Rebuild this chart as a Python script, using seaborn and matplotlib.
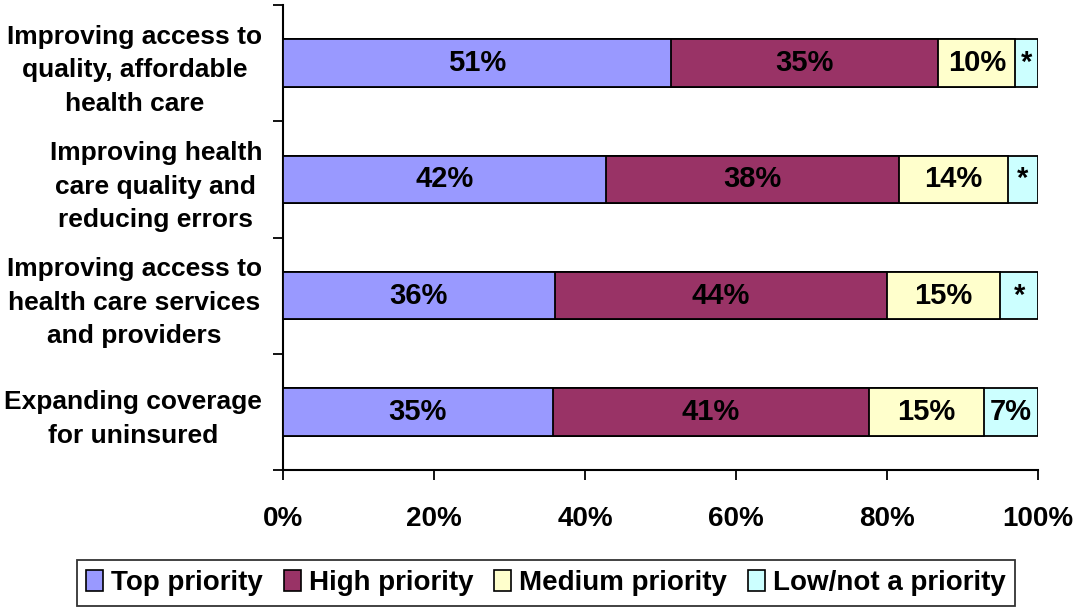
import matplotlib
matplotlib.use("Agg")
import matplotlib.pyplot as plt
from matplotlib.patches import Patch
from matplotlib.ticker import FixedLocator
import seaborn as sns
import numpy as np
import pandas as pd

categories = [
    "Improving access to\nquality, affordable\nhealth care",
    "Improving health\ncare quality and\nreducing errors",
    "Improving access to\nhealth care services\nand providers",
    "Expanding coverage\nfor uninsured",
]
series_names = ["Top priority", "High priority", "Medium priority", "Low/not a priority"]
top_vals = [51.4, 42.8, 36.0, 35.7]
high_vals = [35.4, 38.8, 44.0, 41.9]
medium_vals = [10.2, 14.4, 15.0, 15.3]
low_vals = [3.0, 4.0, 5.0, 7.1]
top_labels = ["51%", "42%", "36%", "35%"]
high_labels = ["35%", "38%", "44%", "41%"]
medium_labels = ["10%", "14%", "15%", "15%"]
low_labels = ["*", "*", "*", "7%"]
colors = ["#9999FF", "#993366", "#FFFFCC", "#CCFFFF"]
xticks = [0, 20, 40, 60, 80, 100]
xtick_labels = ["0%", "20%", "40%", "60%", "80%", "100%"]

sns.set_theme(style="white")
plt.rcParams["font.family"] = ["Liberation Sans", "DejaVu Sans"]
plt.rcParams["font.weight"] = "bold"
for k in ["text.color", "xtick.color", "ytick.color", "axes.labelcolor"]:
    plt.rcParams[k] = "black"

fig = plt.figure(figsize=(10.75, 6.1), dpi=100)
ax = fig.add_axes([283 / 1075, 1 - 470 / 610, (1038 - 283) / 1075, (470 - 5) / 610])

series_vals = [top_vals, high_vals, medium_vals, low_vals]
series_labels = [top_labels, high_labels, medium_labels, low_labels]
cum = np.cumsum(np.array(series_vals), axis=0)

df = pd.DataFrame({"category": categories})
# Draw cumulative bars from the largest to the smallest so they stack visually
for i in range(len(series_names) - 1, -1, -1):
    df["val"] = cum[i]
    sns.barplot(data=df, x="val", y="category", orient="h", color=colors[i],
                edgecolor="black", linewidth=1.3, width=0.41, ax=ax,
                saturation=1, zorder=2 + (3 - i))

for i in range(len(series_names)):
    starts = cum[i] - np.array(series_vals[i])
    for j, cat in enumerate(categories):
        ax.text(starts[j] + series_vals[i][j] / 2, j, series_labels[i][j],
                ha="center", va="center", fontsize=21, fontweight="bold",
                color="black", zorder=10)

ax.set_xlim(0, 100)
ax.set_ylim(3.5, -0.5)
ax.set_xlabel("")
ax.set_ylabel("")
ax.set_xticks(xticks)
ax.set_xticklabels(xtick_labels, fontsize=20, fontweight="bold")
ax.tick_params(axis="x", direction="out", length=7, width=1.3, pad=19, bottom=True, colors="black")
ax.set_yticks(range(len(categories)))
ax.set_yticklabels(categories, fontsize=19, fontweight="bold")
for lbl in ax.get_yticklabels():
    lbl.set_multialignment("center")
    lbl.set_linespacing(1.5)
ax.tick_params(axis="y", which="major", length=0, pad=15)
ax.yaxis.set_minor_locator(FixedLocator([-0.5, 0.5, 1.5, 2.5, 3.5]))
ax.tick_params(axis="y", which="minor", direction="out", length=7, width=1.3, left=True, color="black")

for s in ["top", "right"]:
    ax.spines[s].set_visible(False)
for s in ["left", "bottom"]:
    ax.spines[s].set_color("black")
    ax.spines[s].set_linewidth(1.5)
ax.grid(False)

handles = [Patch(facecolor=c, edgecolor="black", linewidth=1.2) for c in colors]
leg = fig.legend(handles, series_names, loc="center", bbox_to_anchor=(546 / 1075, 1 - 583 / 610),
                 ncol=4, frameon=True, fancybox=False,
                 handlelength=0.6, handleheight=0.8, handletextpad=0.3, columnspacing=0.75,
                 borderpad=0.35, prop={"weight": "bold", "size": 20})
leg.get_frame().set_edgecolor("black")
leg.get_frame().set_linewidth(1.3)

fig.savefig("out.png", dpi=100)
